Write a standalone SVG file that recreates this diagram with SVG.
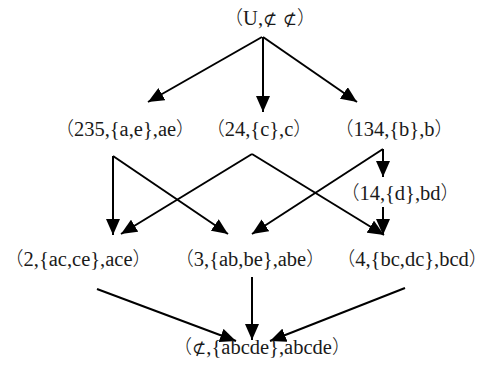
<svg xmlns="http://www.w3.org/2000/svg" width="488" height="367" viewBox="0 0 488 367">
  <style>
    .lbl { font-family: "Liberation Serif", "Times New Roman", serif; font-size: 20.5px; fill: #1a1a1a; text-anchor: middle; }
    .p { font-family: "Noto Sans CJK SC", sans-serif; font-weight: 300; font-size: 19px; }
    .sym { font-family: "DejaVu Serif", serif; font-size: 17px; }
    .edge { stroke: #000; stroke-width: 2; fill: none; marker-end: url(#arrow); }
  </style>
  <defs>
    <marker id="arrow" markerUnits="userSpaceOnUse" markerWidth="16" markerHeight="14" viewBox="0 0 16 14" refX="16" refY="7" orient="auto">
      <path d="M0,0 L16,7 L0,14 Z" fill="#000"/>
    </marker>
  </defs>
  <rect width="488" height="367" fill="#fff"/>

  <g id="connectors">
    <line class="edge" x1="262" y1="37" x2="148" y2="102"/>
    <line class="edge" x1="263" y1="37" x2="263" y2="112"/>
    <line class="edge" x1="263" y1="37" x2="357" y2="102"/>

    <line class="edge" x1="113" y1="156" x2="113" y2="235"/>
    <line class="edge" x1="113" y1="156" x2="228" y2="234"/>
    <line class="edge" x1="252" y1="154" x2="121" y2="234"/>
    <line class="edge" x1="252" y1="154" x2="384" y2="235"/>
    <line class="edge" x1="383" y1="149" x2="252" y2="234"/>
    <line class="edge" x1="383" y1="149" x2="383" y2="177"/>
    <line class="edge" x1="383" y1="207" x2="383" y2="235"/>

    <line class="edge" x1="97" y1="289" x2="236" y2="341"/>
    <line class="edge" x1="252" y1="277" x2="252" y2="340"/>
    <line class="edge" x1="405" y1="288" x2="270" y2="341"/>
  </g>

  <g id="n-top"><text class="lbl" x="270" y="25"><tspan class="p">（</tspan>U,<tspan class="sym">⊄ ⊄</tspan><tspan class="p">）</tspan></text></g>
  <g id="n-235"><text class="lbl" x="125" y="136"><tspan class="p">（</tspan>235,{a,e},ae<tspan class="p">）</tspan></text></g>
  <g id="n-24"><text class="lbl" x="259" y="136"><tspan class="p">（</tspan>24,{c},c<tspan class="p">）</tspan></text></g>
  <g id="n-134"><text class="lbl" x="394" y="136"><tspan class="p">（</tspan>134,{b},b<tspan class="p">）</tspan></text></g>
  <g id="n-14"><text class="lbl" x="400" y="200"><tspan class="p">（</tspan>14,{d},bd<tspan class="p">）</tspan></text></g>
  <g id="n-2"><text class="lbl" x="78" y="266"><tspan class="p">（</tspan>2,{ac,ce},ace<tspan class="p">）</tspan></text></g>
  <g id="n-3"><text class="lbl" x="250" y="266"><tspan class="p">（</tspan>3,{ab,be},abe<tspan class="p">）</tspan></text></g>
  <g id="n-4"><text class="lbl" x="412" y="266"><tspan class="p">（</tspan>4,{bc,dc},bcd<tspan class="p">）</tspan></text></g>
  <g id="n-bottom"><text class="lbl" x="262" y="354"><tspan class="p">（</tspan><tspan class="sym">⊄</tspan>,{abcde},abcde<tspan class="p">）</tspan></text></g>
</svg>
